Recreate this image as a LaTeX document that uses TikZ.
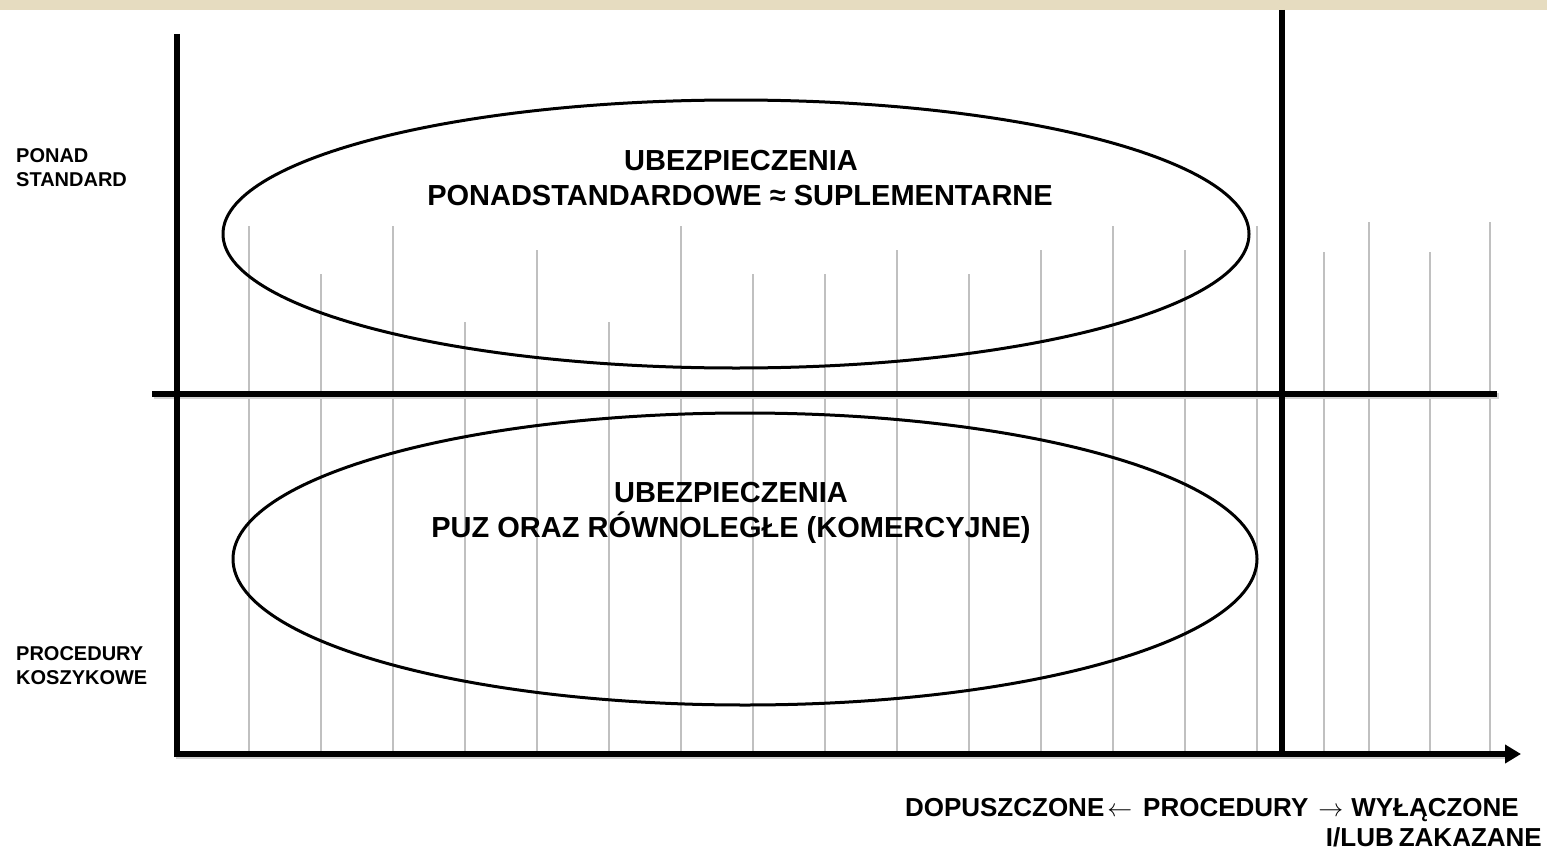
\documentclass[tikz,border=0pt]{standalone}
\usepackage{fontspec}
\setmainfont{Liberation Sans}
\usetikzlibrary{shapes.geometric,arrows.meta}
\definecolor{band}{RGB}{230,220,192}
\definecolor{grid}{RGB}{192,192,192}
\tikzset{
  axis/.style={line width=6pt},
  gridline/.style={draw=grid,line width=1.8pt},
  oval/.style={draw,ellipse,line width=3pt,inner sep=0pt},
  bigtext/.style={font=\bfseries\fontsize{29}{35}\selectfont,anchor=base,inner sep=0pt},
  sidetext/.style={font=\bfseries\fontsize{20}{24}\selectfont,anchor=base west,inner sep=0pt},
  bottext/.style={font=\bfseries\fontsize{26}{30}\selectfont,anchor=base east,inner sep=0pt},
}
\begin{document}
\begin{tikzpicture}[x=1pt,y=-1pt]
\useasboundingbox (0,0) rectangle (1547,851);
\fill[band] (0,0) rectangle (1547,10);
% gray grid lines
\foreach \x/\t in {249/226,321/274,393/226,465/322,537/250,609/322,681/226,753/274,825/274,897/250,969/274,1041/250,1113/226,1185/250,1257/226,1324/252,1369/222,1430/252,1490/222}{
  \draw[gridline] (\x,\t) -- (\x,751);
}
% ellipses
\node[oval,minimum width=1026pt,minimum height=268pt] (top) at (736,234) {};
\node[oval,minimum width=1024pt,minimum height=292pt] (bot) at (745,559) {};
% axes
\coordinate (yb) at (177,757);
\coordinate (yt) at (177,34);
\coordinate (xl) at (174,754);
\coordinate (xr) at (1521,754);
\coordinate (ml) at (152,394);
\coordinate (mr) at (1497,394);
\coordinate (vt) at (1282,10);
\coordinate (vb) at (1282,751);
\draw[axis,grid!70] ([shift={(1.5,1.5)}]ml) -- ([shift={(1.5,1.5)}]mr);
\draw[axis,grid!70] ([shift={(1.5,1.5)}]xl) -- ([shift={(-16,1.5)}]xr);
\draw[axis] (yt) -- (yb);
\draw[axis] (ml) -- (mr);
\draw[axis] (vt) -- (vb);
\draw[axis,-{Triangle[length=16pt,width=18pt]}] (xl) -- (xr);
% texts
\node[bigtext] (t1) at (741,170) {UBEZPIECZENIA};
\node[bigtext] (t2) at (740,205) {PONADSTANDARDOWE ≈ SUPLEMENTARNE};
\node[bigtext] (t3) at (731,502) {UBEZPIECZENIA};
\node[bigtext] (t4) at (731,537) {PUZ ORAZ RÓWNOLEGŁE (KOMERCYJNE)};
\node[sidetext] (s1) at (16,162) {PONAD};
\node[sidetext] (s2) at (16,186) {STANDARD};
\node[sidetext] (s3) at (16,660) {PROCEDURY};
\node[sidetext] (s4) at (16,684) {KOSZYKOWE};
\node[bottext] (b1) at (1519,816) {DOPUSZCZONE\hspace{3pt}$\leftarrow$\hspace{11pt}PROCEDURY\hspace{10pt}$\rightarrow$\hspace{8pt}WYŁĄCZONE};
\node[bottext] (b2) at (1542,846) {I/LUB\hspace{5pt}ZAKAZANE};
\end{tikzpicture}
\end{document}
